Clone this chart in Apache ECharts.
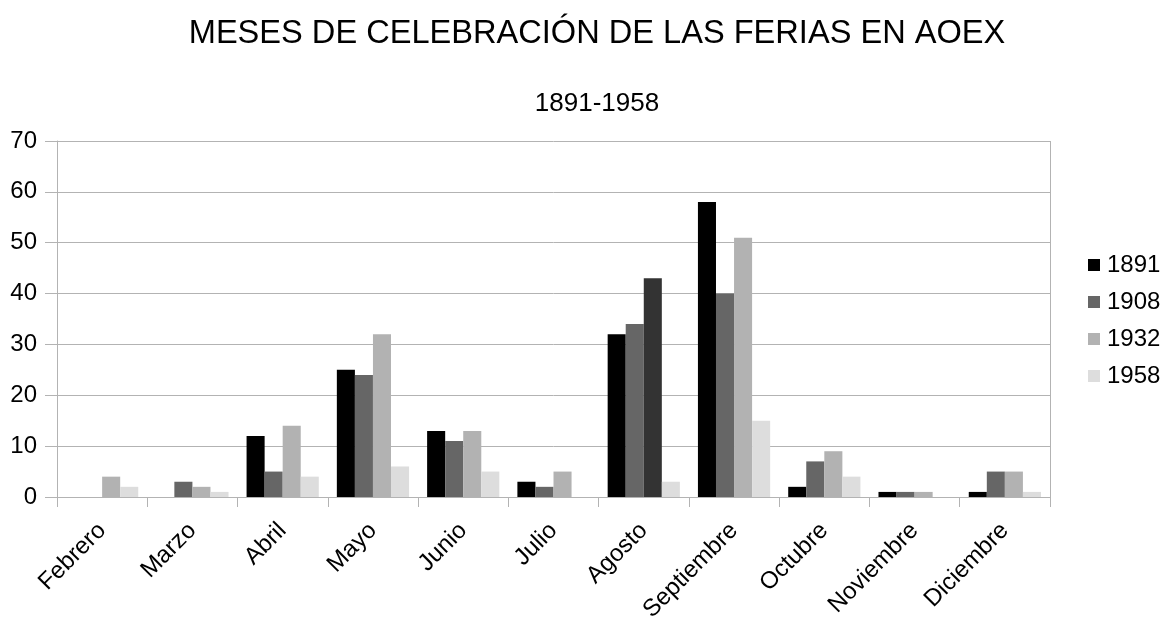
<!DOCTYPE html>
<html>
<head>
<meta charset="utf-8">
<script src="https://cdn.jsdelivr.net/npm/echarts@6/dist/echarts.min.js"></script>
<style>html,body{margin:0;padding:0;background:#fff;}#c{width:1165px;height:620px;}</style>
</head>
<body>
<div id="c"></div>
<script>
const categories = ['Febrero','Marzo','Abril','Mayo','Junio','Julio','Agosto','Septiembre','Octubre','Noviembre','Diciembre'];
const seriesNames = ['1891','1908','1932','1958'];
const v1891 = [0, 0, 12, 25, 13, 3, 32, 58, 2, 1, 1];
const v1908 = [0, 3, 5, 24, 11, 2, 34, 40, 7, 1, 5];
const v1932 = [4, 2, 14, 32, 13, 5, 43, 51, 9, 1, 5];
const v1958 = [2, 1, 4, 6, 5, 0, 3, 15, 4, 0, 1];
const yTicks = [0, 10, 20, 30, 40, 50, 60, 70];
const colors = ['#000000', '#666666', '#b2b2b2', '#dddddd'];
const specialColor = '#333333'; // Agosto 1932 bar drawn darker in the original
const FONT = 'Liberation Sans, Arial, sans-serif';

const values = [v1891, v1908, v1932, v1958];
const series = seriesNames.map((n, i) => ({
  name: n,
  type: 'bar',
  barGap: '0%',
  barCategoryGap: '20%',
  itemStyle: { color: colors[i] },
  data: values[i].map((v, j) => (i === 2 && categories[j] === 'Agosto') ? { value: v, itemStyle: { color: specialColor } } : v)
}));

const chart = echarts.init(document.getElementById('c'));
chart.setOption({
  animation: false,
  backgroundColor: '#ffffff',
  color: colors,
  title: [
    { text: 'MESES DE CELEBRACIÓN DE LAS FERIAS EN AOEX', left: 592, textAlign: 'center', top: 13,
      textStyle: { fontFamily: FONT, fontSize: 32.6, fontWeight: 'normal', color: '#000' } },
    { text: '1891-1958', top: 86, left: 592,
      textAlign: 'center',
      textStyle: { fontFamily: FONT, fontSize: 26, fontWeight: 'normal', color: '#000' } }
  ],
  legend: {
    orient: 'vertical',
    left: 1083,
    top: 248,
    itemWidth: 12,
    itemHeight: 12,
    itemGap: 13,
    icon: 'rect',
    textStyle: { fontFamily: FONT, fontSize: 24, color: '#000', padding: [0, 0, 0, 2] },
    data: seriesNames
  },
  grid: { left: 57, right: 115, top: 141, bottom: 123, containLabel: false, outerBoundsMode: 'none' },
  xAxis: {
    type: 'category',
    data: categories,
    axisLine: { show: true, lineStyle: { color: '#b3b3b3', width: 1 } },
    axisTick: { show: true, length: 10, lineStyle: { color: '#b3b3b3' } },
    axisLabel: { rotate: 45, margin: 30, fontFamily: FONT, fontSize: 24, color: '#000', interval: 0 },
    splitLine: { show: false }
  },
  yAxis: {
    type: 'value',
    min: yTicks[0],
    max: yTicks[yTicks.length - 1],
    interval: 10,
    axisLine: { show: true, lineStyle: { color: '#b3b3b3', width: 1 } },
    axisTick: { show: true, length: 12, lineStyle: { color: '#b3b3b3' } },
    axisLabel: { margin: 20, fontFamily: FONT, fontSize: 24, color: '#000' },
    splitLine: { show: true, lineStyle: { color: '#b3b3b3', width: 1 } }
  },
  graphic: [{
    type: 'line', silent: true, z: 1,
    shape: { x1: 1050.5, y1: 141, x2: 1050.5, y2: 507 },
    style: { stroke: '#b3b3b3', lineWidth: 1 }
  }],
  series: series
});
</script>
</body>
</html>
